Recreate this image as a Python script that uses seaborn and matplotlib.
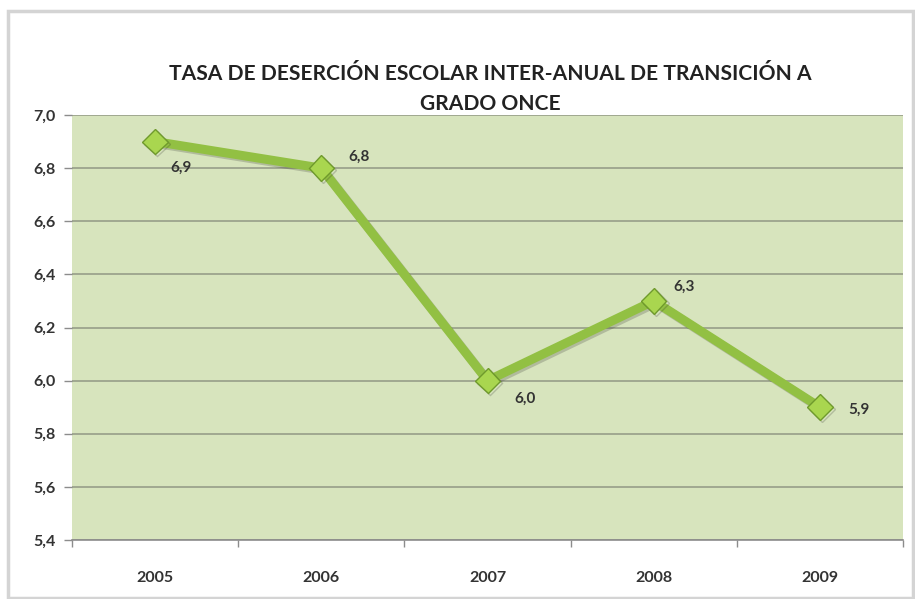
import matplotlib
matplotlib.use("Agg")
import matplotlib.pyplot as plt
import matplotlib.patheffects as pe
from matplotlib.patches import Rectangle
import seaborn as sns
import pandas as pd

years = ["2005", "2006", "2007", "2008", "2009"]
rates = [6.9, 6.8, 6.0, 6.3, 5.9]
value_labels = ["6,9", "6,8", "6,0", "6,3", "5,9"]
y_ticks = [5.4, 5.6, 5.8, 6.0, 6.2, 6.4, 6.6, 6.8, 7.0]
title = "TASA DE DESERCIÓN ESCOLAR INTER-ANUAL DE TRANSICIÓN A\nGRADO ONCE"

# label offsets in points (dx, dy) around each marker
label_offsets = [(19, -19), (27, 8), (27, -13), (22, 10), (28, -2)]

df = pd.DataFrame({"year": years, "rate": rates})

sns.set_theme(style="white")
plt.rcParams["font.family"] = ["Lato", "DejaVu Sans"]

fig = plt.figure(figsize=(9.15, 5.99), dpi=100)
fig.patch.set_facecolor("white")

# light frame around the chart
fig.patches.append(Rectangle((8 / 915, 0.002), 905 / 915, 1 - 12 / 599,
                             transform=fig.transFigure, fill=False,
                             edgecolor="#d4d4d4", linewidth=2.5))

ax = fig.add_axes([72 / 915, 1 - 540 / 599, 831 / 915, 425 / 599])
ax.set_facecolor("#d7e4bd")

sns.lineplot(data=df, x="year", y="rate", ax=ax, sort=False,
             color="#92c043", linewidth=6.5, marker="D", markersize=13,
             markerfacecolor="#a9d64f", markeredgecolor="#6f9a2c",
             markeredgewidth=1.0,
             path_effects=[pe.SimpleLineShadow(offset=(1.5, -1.5), alpha=0.2),
                           pe.Normal()])

for i, (v, lab) in enumerate(zip(rates, value_labels)):
    dx, dy = label_offsets[i]
    ax.annotate(lab, (i, v), xytext=(dx, dy), textcoords="offset points",
                ha="center", va="center", fontsize=11, fontweight="bold",
                color="#333333")

ax.set_xlim(-0.5, len(years) - 0.5)
ax.set_ylim(5.4, 7.0)
ax.set_yticks(y_ticks)
ax.set_yticklabels([f"{t:.1f}".replace(".", ",") for t in y_ticks])
ax.set_xticks(range(len(years)))
ax.set_xticklabels(years)
ax.set_xticks([i - 0.5 for i in range(len(years) + 1)], minor=True)

ax.yaxis.grid(True, color="#a0a890", linewidth=1.4)
ax.set_axisbelow(True)
for s in ["top", "right", "left"]:
    ax.spines[s].set_visible(False)
ax.spines["bottom"].set_color("#8c8c8c")
ax.spines["bottom"].set_linewidth(1.2)

ax.tick_params(axis="y", which="major", left=True, length=6, width=1,
               color="#8c8c8c", labelsize=11.5, labelcolor="#333333", pad=6)
ax.tick_params(axis="x", which="major", bottom=False, labelsize=11.5,
               labelcolor="#333333", pad=16)
ax.tick_params(axis="x", which="minor", bottom=True, length=5, width=1,
               color="#8c8c8c")
for lbl in ax.get_xticklabels() + ax.get_yticklabels():
    lbl.set_fontweight("bold")

ax.set_xlabel("")
ax.set_ylabel("")

fig.text(490 / 915, 1 - 89 / 599, title, ha="center", va="center",
         fontsize=15.1, fontweight="bold", color="#222222", linespacing=1.6)

fig.savefig("out.png", dpi=100)
